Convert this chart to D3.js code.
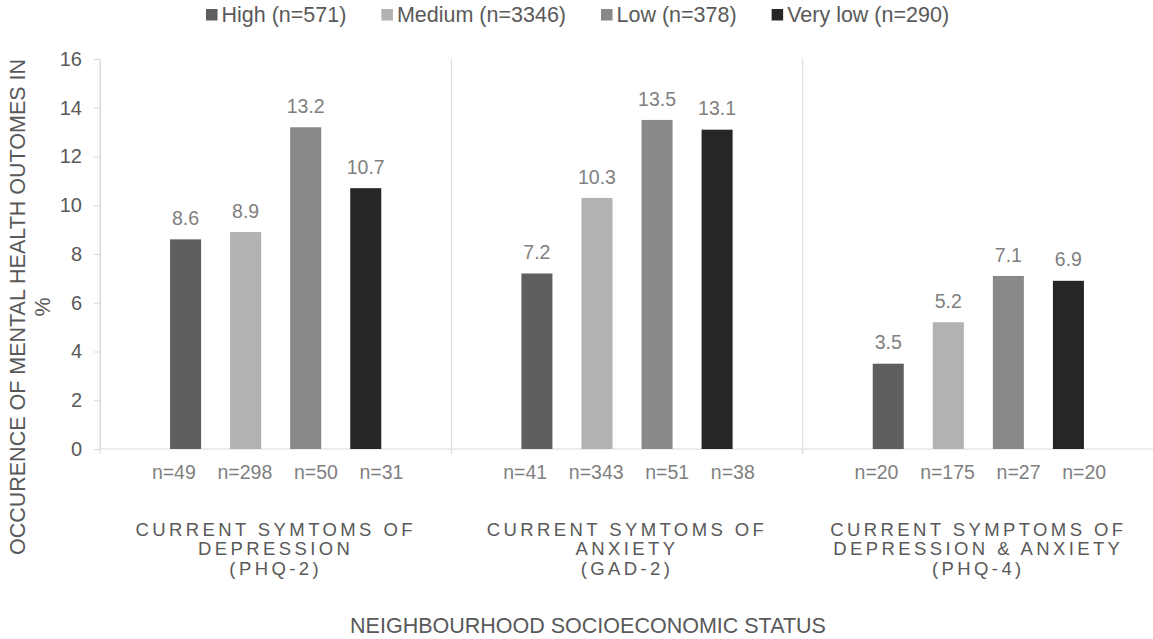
<!DOCTYPE html>
<html><head><meta charset="utf-8">
<script src="https://cdn.jsdelivr.net/npm/d3@7"></script>
<style>body{margin:0;background:#fff} text{font-family:"Liberation Sans",Arial,sans-serif}</style>
</head><body><svg id="c" width="1153" height="639"></svg>
<script>
const categories = [
  ["CURRENT SYMTOMS OF", "DEPRESSION", "(PHQ-2)"],
  ["CURRENT SYMTOMS OF", "ANXIETY", "(GAD-2)"],
  ["CURRENT SYMPTOMS OF", "DEPRESSION & ANXIETY", "(PHQ-4)"]
];
const seriesNames = ["High (n=571)", "Medium (n=3346)", "Low (n=378)", "Very low (n=290)"];
const seriesColors = ["#5f5f5f", "#b2b2b2", "#898989", "#262626"];
const valHigh = [8.6, 7.2, 3.5];
const valMedium = [8.9, 10.3, 5.2];
const valLow = [13.2, 13.5, 7.1];
const valVeryLow = [10.7, 13.1, 6.9];
const nHigh = [49, 41, 20];
const nMedium = [298, 343, 175];
const nLow = [50, 51, 27];
const nVeryLow = [31, 38, 20];
const yTicks = [0, 2, 4, 6, 8, 10, 12, 14, 16];
const yTitle = ["OCCURENCE OF MENTAL HEALTH OUTOMES IN", "%"];
const xTitle = "NEIGHBOURHOOD SOCIOECONOMIC STATUS";

const values = [valHigh, valMedium, valLow, valVeryLow];
const counts = [nHigh, nMedium, nLow, nVeryLow];

const svg = d3.select("#c");
const L = 100, R = 1154, T = 59, B = 449;
const axisColor = "#d9d9d9", textDark = "#595959", textLight = "#7f7f7f";

const x0 = d3.scaleBand().domain(d3.range(categories.length)).range([L, R]).padding(0);
const x1 = d3.scaleBand().domain(d3.range(seriesNames.length)).range([0, x0.bandwidth()])
  .paddingInner(0.4833).paddingOuter(1.1667);
const y = d3.scaleLinear().domain([0, 16]).range([B, T]);

// y axis
const ya = svg.append("g").attr("transform", `translate(${L},0)`)
  .call(d3.axisLeft(y).tickValues(yTicks).tickSize(6).tickSizeOuter(0).tickPadding(12));
ya.select(".domain").attr("stroke", axisColor);
ya.selectAll(".tick line").attr("stroke", axisColor);
ya.selectAll(".tick text").attr("fill", textDark).style("font-size", "20px")
  .style("font-family", '"Liberation Sans",Arial,sans-serif');

// separators
const bounds = x0.domain().map(d => x0(d)).concat([R]);
svg.append("g").selectAll("line").data(bounds).join("line")
  .attr("x1", d => d).attr("x2", d => d).attr("y1", T).attr("y2", B + 5)
  .attr("stroke", axisColor).attr("stroke-width", 1);

// baseline
svg.append("line").attr("x1", L).attr("x2", R).attr("y1", y(0)).attr("y2", y(0))
  .attr("stroke", axisColor);

// bars
const barData = [];
categories.forEach((c, i) => values.forEach((arr, j) => barData.push({i, j, v: arr[i]})));
svg.append("g").selectAll("rect").data(barData).join("rect")
  .attr("x", d => x0(d.i) + x1(d.j)).attr("width", x1.bandwidth())
  .attr("y", d => y(d.v)).attr("height", d => y(0) - y(d.v))
  .attr("fill", d => seriesColors[d.j]);

// value labels
svg.append("g").selectAll("text").data(barData).join("text")
  .attr("x", d => x0(d.i) + x1(d.j) + x1.bandwidth() / 2)
  .attr("y", d => y(d.v) - 14.4)
  .attr("text-anchor", "middle").attr("fill", textLight).style("font-size", "19.5px")
  .text(d => d.v.toFixed(1));

// n labels
svg.append("g").selectAll("text").data(categories).join("text")
  .attr("x", (d, i) => x0(i) + x0.bandwidth() / 2 + 2)
  .attr("y", 479)
  .attr("text-anchor", "middle").attr("fill", textLight).style("font-size", "19.5px")
  .style("white-space", "pre").attr("xml:space", "preserve")
  .text((d, i) => counts.map(a => "n=" + a[i]).join("    "));

// category labels
const ls = 3.4;
const cg = svg.append("g").selectAll("text").data(categories).join("text")
  .attr("text-anchor", "middle").attr("fill", textDark).style("font-size", "18.5px")
  .style("letter-spacing", ls + "px");
cg.selectAll("tspan").data((d, i) => d.map(t => ({t, i}))).join("tspan")
  .attr("x", d => x0(d.i) + x0.bandwidth() / 2)
  .attr("y", (d, k) => 535.5 + k * 19.5)
  .text(d => d.t);

// x title
svg.append("text").attr("x", 588).attr("y", 633).attr("text-anchor", "middle")
  .attr("fill", textDark).style("font-size", "21.5px").text(xTitle);

// y title
svg.append("g").attr("transform", "translate(0,307) rotate(-90)")
  .selectAll("text").data(yTitle).join("text")
  .attr("x", 0).attr("y", (d, k) => 25 + k * 25).attr("text-anchor", "middle")
  .attr("fill", textDark).style("font-size", "21.5px").text(d => d);

// legend
const lg = svg.append("g");
let lx = 206;
seriesNames.forEach((name, j) => {
  lg.append("rect").attr("x", lx).attr("y", 9).attr("width", 11.5).attr("height", 11.5)
    .attr("fill", seriesColors[j]);
  const t = lg.append("text").attr("x", lx + 15.5).attr("y", 21.5).attr("fill", textDark)
    .style("font-size", "21.5px").text(name);
  lx = lx + 15.5 + t.node().getComputedTextLength() + 35;
});
</script></body></html>
